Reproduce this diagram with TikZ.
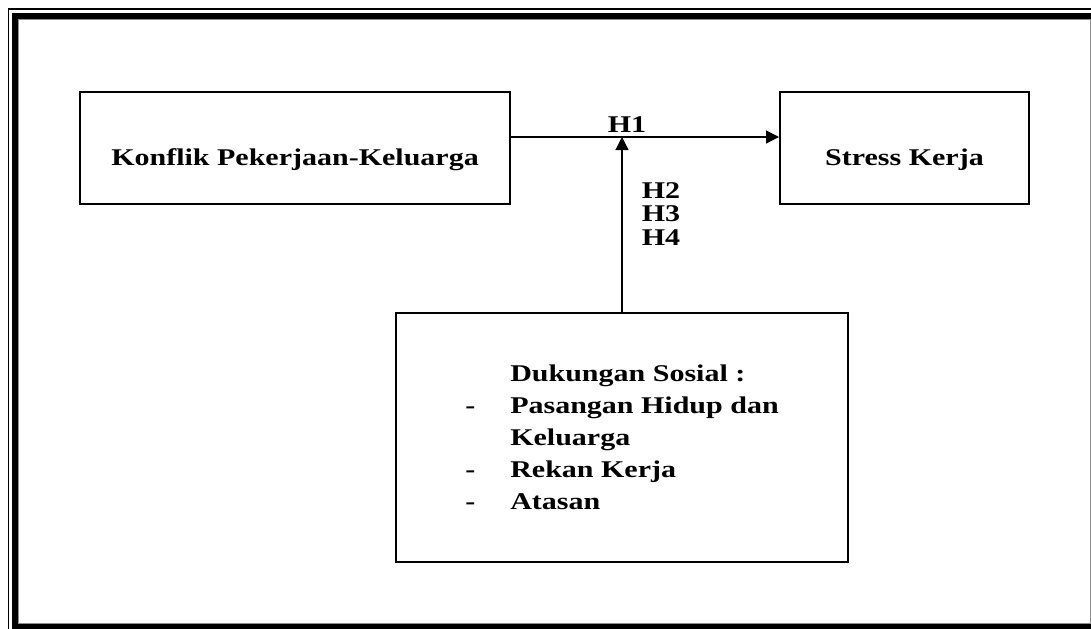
\documentclass[tikz,border=0pt]{standalone}
\usepackage{fontspec}
\setmainfont{Liberation Serif}[FakeStretch=1.25]
\usetikzlibrary{arrows.meta,positioning}
\tikzset{
  box/.style={draw, line width=1pt, inner sep=0pt, font=\bfseries\fontsize{12}{16}\selectfont, align=left},
  var/.style={box, minimum height=56pt, text height=17pt, text depth=0pt},
  hyp/.style={font=\bfseries\fontsize{12}{11.75}\selectfont, inner sep=0pt, align=center},
  pre/.style={-{Triangle[length=6.5pt,width=6.5pt]}, line width=0.6pt},
  frm/.style={line width=3pt},
}
\begin{document}
\begin{tikzpicture}[x=0.5pt,y=-0.5pt]
\useasboundingbox (0,0) rectangle (1091,628);
\begin{scope}
  \clip (0,0) rectangle (1091,628);
  \draw[line width=0.8pt] (8.5,9) rectangle (1100,634);
  \draw[frm] (14.5,16.2) rectangle (1093.5,626.5);
  \draw[black!45, line width=0.5pt] (18.2,19.5) rectangle (1090,623);
\end{scope}
\node[var, minimum width=215pt] (kpk) at (295,148) {Konflik Pekerjaan-Keluarga};
\node[var, minimum width=124.5pt] (stres) at (904.5,148) {Stress Kerja};
\node[box, minimum width=226pt, minimum height=124.5pt] (dukung) at (622,437.5) {%
  \hspace*{22.5pt}Dukungan Sosial :\\
  \makebox[22.5pt][l]{-}Pasangan Hidup dan\\
  \hspace*{22.5pt}Keluarga\\
  \makebox[22.5pt][l]{-}Rekan Kerja\\
  \makebox[22.5pt][l]{-}Atasan};
\coordinate (hline) at ([yshift=5.5pt]kpk.east);
\draw[pre] (hline) -- ([yshift=5.5pt]stres.west);
\draw[pre] (dukung.north) -- (dukung.north |- hline);
\node[hyp, anchor=south] (h1) at (627,133) {H1};
\node[hyp, anchor=north] (h234) at (661,182) {H2\\H3\\H4};
\end{tikzpicture}
\end{document}
